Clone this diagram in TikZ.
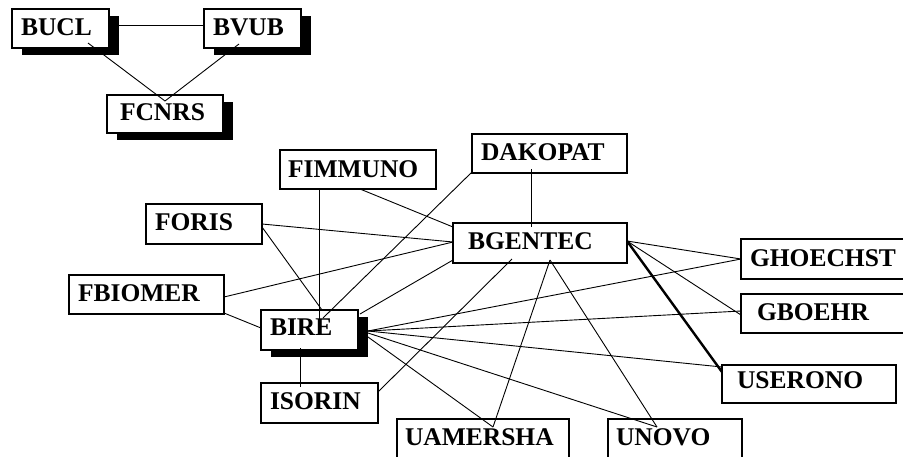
\documentclass[tikz,border=0pt]{standalone}
\usepackage{fontspec}
\setmainfont{Liberation Serif}
\usetikzlibrary{shadows,calc}
\begin{document}
\begin{tikzpicture}[x=1pt,y=-1pt,
  box/.style={draw, line width=2pt, fill=white, anchor=north west, outer sep=0pt,
    inner ysep=0pt, align=left, font=\bfseries\fontsize{25.5}{30}\selectfont},
  shd/.style={drop shadow={shadow xshift=10pt, shadow yshift=-7pt, fill=black, opacity=1}},
  link/.style={line width=0.9pt},
  heavylink/.style={line width=2.4pt}]
\useasboundingbox (0,0) rectangle (903,456);
\clip (0,0) rectangle (903,456);
% nodes
\node[box,shd,inner xsep=9pt,text width=79pt,text height=26pt,text depth=13pt] (BUCL) at (12,9) {BUCL};
\node[box,shd,inner xsep=9pt,text width=79pt,text height=26pt,text depth=13pt] (BVUB) at (204,9) {BVUB};
\node[box,shd,inner xsep=13pt,text width=90pt,text height=25pt,text depth=13pt] (FCNRS) at (107,95) {FCNRS};
\node[box,inner xsep=8pt,text width=140pt,text height=27pt,text depth=12pt] (FIMMUNO) at (280,150) {FIMMUNO};
\node[box,inner xsep=9pt,text width=137pt,text height=26pt,text depth=13pt] (DAKOPAT) at (472,134) {DAKOPAT};
\node[box,inner xsep=9pt,text width=98pt,text height=26pt,text depth=14pt] (FORIS) at (146,204) {FORIS};
\node[box,inner xsep=15pt,text width=144pt,text height=26pt,text depth=14pt] (BGENTEC) at (453,223) {BGENTEC};
\node[box,inner xsep=9pt,text width=137pt,text height=26pt,text depth=13pt] (FBIOMER) at (69,275) {FBIOMER};
\node[box,inner xsep=9pt,text width=161pt,text height=27pt,text depth=13pt] (GHOECHST) at (741,239) {GHOECHST};
\node[box,inner xsep=16pt,text width=147pt,text height=26pt,text depth=13pt] (GBOEHR) at (741,294) {GBOEHR};
\node[box,inner xsep=15pt,text width=144pt,text height=23pt,text depth=15pt] (USERONO) at (722,365) {USERONO};
\node[box,shd,inner xsep=9pt,text width=79pt,text height=25pt,text depth=15pt] (BIRE) at (261,310) {BIRE};
\node[box,inner xsep=9pt,text width=99pt,text height=26pt,text depth=14pt] (ISORIN) at (261,383) {ISORIN};
\node[box,inner xsep=8pt,text width=156pt,text height=26pt,text depth=25pt] (UAMERSHA) at (397,419) {UAMERSHA};
\node[box,inner xsep=8pt,text width=118pt,text height=26pt,text depth=25pt] (UNOVO) at (608,419) {UNOVO};
% connectors
\draw[link] ($(BUCL.north west)+(97,16)$) -- ($(BVUB.north west)+(0,16)$);
\draw[link] ($(BUCL.north west)+(76,34)$) -- ($(FCNRS.north west)+(58,6)$);
\draw[link] ($(BVUB.north west)+(35,35)$) -- ($(FCNRS.north west)+(58,6)$);
\draw[link] ($(DAKOPAT.north west)+(59,35)$) -- ($(BGENTEC.north west)+(78,4)$);
\draw[link] ($(DAKOPAT.north west)+(0,38)$) -- ($(BIRE.north west)+(62,8)$);
\draw[link] ($(FIMMUNO.north west)+(39,39)$) -- ($(BIRE.north west)+(58,13)$);
\draw[link] ($(FIMMUNO.north west)+(80,39)$) -- ($(BGENTEC.north west)+(0,4)$);
\draw[link] ($(FORIS.north west)+(116,20)$) -- ($(BGENTEC.north west)+(0,19)$);
\draw[link] ($(FORIS.north west)+(116,23)$) -- ($(BIRE.north west)+(61,0)$);
\draw[link] ($(FBIOMER.north west)+(155,22)$) -- ($(BGENTEC.north west)+(0,19)$);
\draw[link] ($(FBIOMER.north west)+(155,38)$) -- ($(BIRE.north west)+(0,18)$);
\draw[link] ($(BIRE.north west)+(99,4)$) -- ($(BGENTEC.north west)+(0,37)$);
\draw[link] ($(ISORIN.north west)+(117,9)$) -- ($(BGENTEC.north west)+(59,36)$);
\draw[link] ($(BGENTEC.north west)+(97,37)$) -- ($(UAMERSHA.north west)+(96,8)$);
\draw[link] ($(BGENTEC.north west)+(97,37)$) -- ($(UNOVO.north west)+(49,8)$);
\draw[link] ($(BIRE.north west)+(107,27)$) -- ($(UAMERSHA.north west)+(96,8)$);
\draw[link] ($(BIRE.north west)+(107,23)$) -- ($(UNOVO.north west)+(49,8)$);
\draw[link] ($(BIRE.north west)+(107,21)$) -- ($(USERONO.north west)+(0,2)$);
\draw[link] ($(BIRE.north west)+(107,21)$) -- ($(GBOEHR.north west)+(0,17)$);
\draw[link] ($(BIRE.north west)+(107,21)$) -- ($(GHOECHST.north west)+(0,20)$);
\draw[link] ($(BIRE.north west)+(39,38)$) -- ($(ISORIN.north west)+(39,4)$);
\draw[link] ($(BGENTEC.north west)+(174,18)$) -- ($(GHOECHST.north west)+(0,20)$);
\draw[link] ($(BGENTEC.north west)+(174,18)$) -- ($(GBOEHR.north west)+(0,21)$);
\draw[heavylink] ($(BGENTEC.north west)+(174,18)$) -- ($(USERONO.north west)+(0,7)$);
\end{tikzpicture}
\end{document}
